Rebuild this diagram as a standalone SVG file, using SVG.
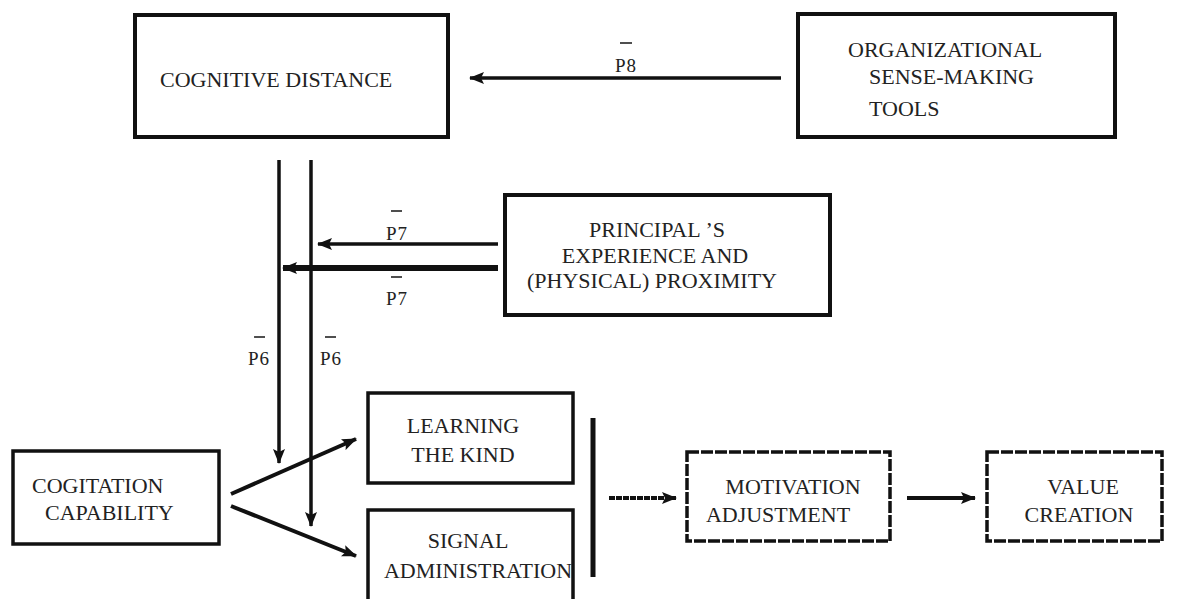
<svg xmlns="http://www.w3.org/2000/svg" width="1193" height="599" viewBox="0 0 1193 599">
  <style>
    .box { fill: #fff; stroke: #111; stroke-width: 4; }
    .dbox { fill: #fff; stroke: #111; stroke-width: 3.5; stroke-dasharray: 12 2; }
    .t { font-family: "Liberation Serif", "Times New Roman", serif; font-size: 22px; fill: #222; }
    .lbl { font-family: "Liberation Serif", "Times New Roman", serif; font-size: 19px; fill: #222; text-anchor: middle; letter-spacing: 1px; }
    .bar { stroke: #222; stroke-width: 1.6; }
    .c { stroke: #111; fill: none; stroke-width: 3.5; marker-end: url(#ah); }
  </style>
  <defs>
    <marker id="ah" markerUnits="userSpaceOnUse" markerWidth="15" markerHeight="12" refX="14" refY="6" orient="auto">
      <path d="M0,0 L15,6 L0,12 L3,6 z" fill="#111"/>
    </marker>
  </defs>
  <rect width="1193" height="599" fill="#fff"/>

  <g id="connectors">
    <line class="c" x1="781" y1="78" x2="470" y2="78"/>
    <line class="c" x1="279" y1="160" x2="279" y2="463"/>
    <line class="c" x1="311" y1="160" x2="311" y2="526"/>
    <line class="c" x1="498" y1="244" x2="318" y2="244"/>
    <line class="c" x1="498" y1="268" x2="283" y2="268" style="stroke-width:6"/>
    <line class="c" x1="231" y1="494" x2="356" y2="439" style="stroke-width:4"/>
    <line class="c" x1="231" y1="506" x2="356" y2="556" style="stroke-width:4"/>
    <line x1="593" y1="418" x2="593" y2="577" stroke="#111" stroke-width="5"/>
    <line class="c" x1="609" y1="498" x2="676" y2="498" style="stroke-width:4;stroke-dasharray:6 1"/>
    <line class="c" x1="907" y1="498" x2="975" y2="498" style="stroke-width:4"/>
    <g id="lbl-p8"><line class="bar" x1="620" y1="43" x2="632" y2="43"/><text class="lbl" x="626" y="72">P8</text></g>
    <g id="lbl-p7a"><line class="bar" x1="391" y1="211" x2="402" y2="211"/><text class="lbl" x="397" y="240">P7</text></g>
    <g id="lbl-p7b"><line class="bar" x1="391" y1="277" x2="402" y2="277"/><text class="lbl" x="397" y="305">P7</text></g>
    <g id="lbl-p6a"><line class="bar" x1="254" y1="337" x2="265" y2="337"/><text class="lbl" x="259" y="365">P6</text></g>
    <g id="lbl-p6b"><line class="bar" x1="325" y1="337" x2="336" y2="337"/><text class="lbl" x="331" y="365">P6</text></g>
  </g>

  <g id="cognitive-distance">
    <rect class="box" x="135" y="15" width="313" height="122"/>
    <text class="t" x="160" y="87">COGNITIVE DISTANCE</text>
  </g>

  <g id="organizational-tools">
    <rect class="box" x="798" y="14" width="317" height="123"/>
    <text class="t" x="848" y="57">ORGANIZATIONAL</text>
    <text class="t" x="869" y="84">SENSE-MAKING</text>
    <text class="t" x="869" y="116">TOOLS</text>
  </g>

  <g id="principal">
    <rect class="box" x="505" y="195" width="325" height="120"/>
    <text class="t" x="657" y="237" text-anchor="middle">PRINCIPAL ’S</text>
    <text class="t" x="655" y="263" text-anchor="middle">EXPERIENCE AND</text>
    <text class="t" x="652" y="288" text-anchor="middle">(PHYSICAL) PROXIMITY</text>
  </g>

  <g id="cogitation">
    <rect class="box" x="13" y="451" width="206" height="93" style="stroke-width:3.5"/>
    <text class="t" x="32" y="493">COGITATION</text>
    <text class="t" x="45" y="520">CAPABILITY</text>
  </g>

  <g id="learning">
    <rect class="box" x="368" y="393" width="205" height="90" style="stroke-width:3.5"/>
    <text class="t" x="463" y="433" text-anchor="middle">LEARNING</text>
    <text class="t" x="463" y="462" text-anchor="middle">THE KIND</text>
  </g>

  <g id="signal">
    <rect class="box" x="368" y="510" width="205" height="92" style="stroke-width:3.5"/>
    <text class="t" x="468" y="548" text-anchor="middle">SIGNAL</text>
    <text class="t" x="478" y="578" text-anchor="middle">ADMINISTRATION</text>
  </g>

  <g id="motivation">
    <rect class="dbox" x="687" y="452" width="203" height="89"/>
    <text class="t" x="793" y="494" text-anchor="middle">MOTIVATION</text>
    <text class="t" x="778" y="522" text-anchor="middle">ADJUSTMENT</text>
  </g>

  <g id="value">
    <rect class="dbox" x="987" y="452" width="175" height="89"/>
    <text class="t" x="1083" y="494" text-anchor="middle">VALUE</text>
    <text class="t" x="1079" y="522" text-anchor="middle">CREATION</text>
  </g>
</svg>
